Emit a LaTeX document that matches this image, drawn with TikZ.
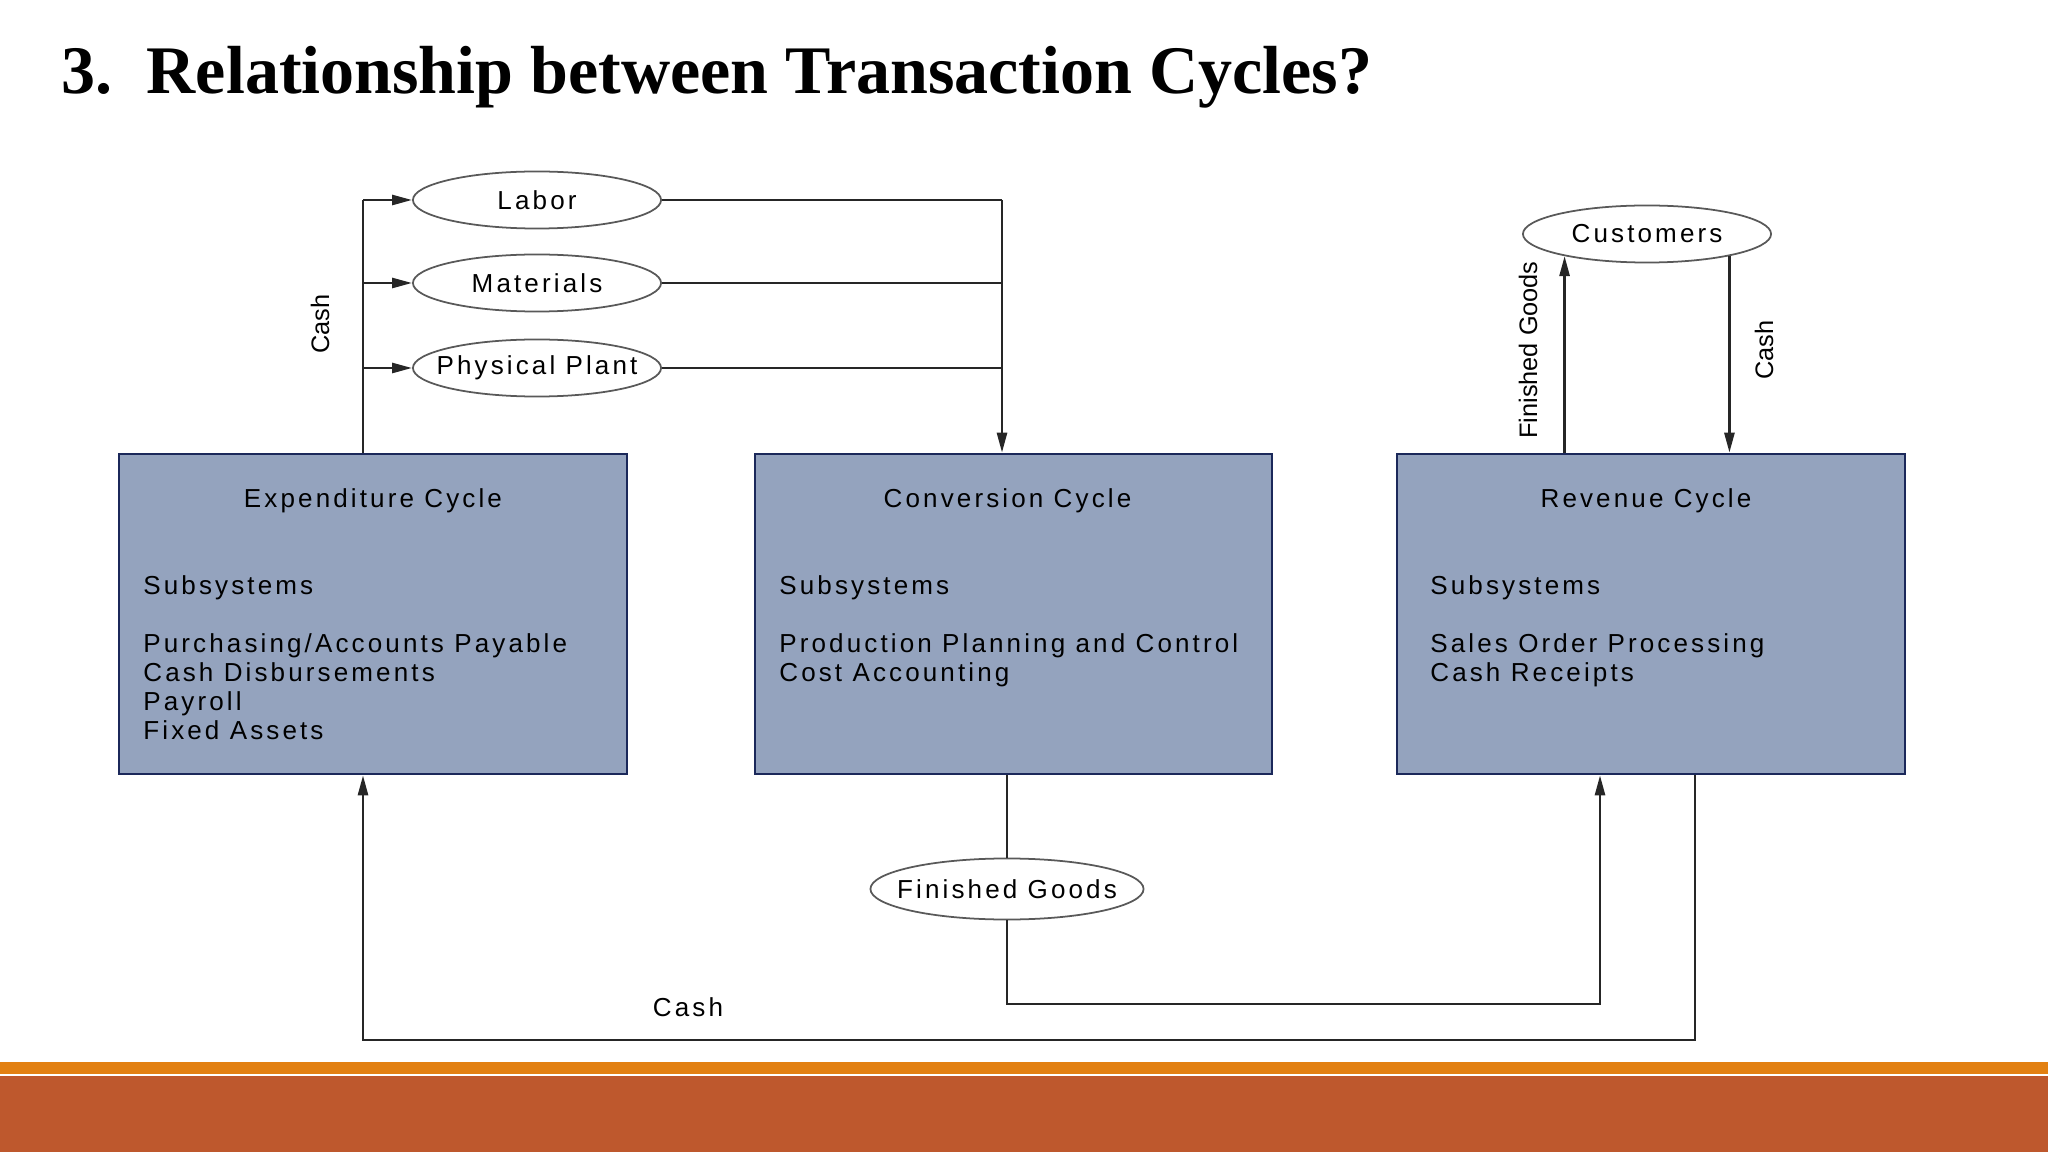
\documentclass[tikz,border=0pt]{standalone}
\usepackage{fontspec}
\setmainfont{Liberation Serif}
\newfontfamily\diagfont[LetterSpace=12]{Liberation Sans}
\newfontfamily\plainsans{Liberation Sans}
\usetikzlibrary{shapes.geometric,arrows.meta,positioning}
\definecolor{boxfill}{RGB}{148,163,190}
\definecolor{boxline}{RGB}{27,40,90}
\definecolor{bandorange}{RGB}{226,128,18}
\definecolor{bandrust}{RGB}{190,88,45}

\begin{document}
\begin{tikzpicture}
[
    x=0.01cm, y=-0.01cm,
    cyclebox/.style={draw=boxline, fill=boxfill, line width=0.7pt, minimum height=3.2cm, inner sep=0},
    resource/.style={ellipse, draw=black!65, fill=white, line width=0.5pt, minimum width=2.48cm, minimum height=0.57cm, inner ysep=0, inner xsep=-0.15cm, font=\diagfont\fontsize{7.4}{8.25}\selectfont},
    link/.style={draw=black!85, line width=0.75pt},
    flow/.style={-{Triangle[length=0.2cm,width=0.1cm]}},
    boxtitle/.style={inner sep=0, font=\diagfont\fontsize{7.4}{8.25}\selectfont},
    boxlist/.style={align=left, anchor=north west, inner sep=0, font=\diagfont\fontsize{7.4}{8.25}\selectfont},
    sidelabel/.style={rotate=90, inner sep=0, font=\plainsans\fontsize{7.2}{8}\selectfont}
]
    \useasboundingbox (0,0) rectangle (2048,1152);

    \node [anchor=base west, inner sep=0, font=\fontsize{19.35}{23}\selectfont\bfseries] (title) at (61,94) {3.\ \ Relationship between Transaction Cycles?};

    % cycles
    \node [cyclebox, minimum width=5.08cm] (exp) at (373,614) {};
    \node [cyclebox, minimum width=5.17cm] (conv) at (1013.5,614) {};
    \node [cyclebox, minimum width=5.08cm] (rev) at (1651,614) {};

    \node [boxtitle] (exptitle) at ([yshift=-0.48cm]exp.north) {Expenditure Cycle};
    \node [boxtitle] (convtitle) at ([xshift=-0.06cm,yshift=-0.48cm]conv.north) {Conversion Cycle};
    \node [boxtitle] (revtitle) at ([xshift=-0.05cm,yshift=-0.48cm]rev.north) {Revenue Cycle};

    \node [boxlist] (explist) at ([xshift=0.25cm,yshift=-1.22cm]exp.north west)
        {Subsystems\\[0.29cm]Purchasing/Accounts Payable\\Cash Disbursements\\Payroll\\Fixed Assets};
    \node [boxlist] (convlist) at ([xshift=0.25cm,yshift=-1.22cm]conv.north west)
        {Subsystems\\[0.29cm]Production Planning and Control\\Cost Accounting};
    \node [boxlist] (revlist) at ([xshift=0.34cm,yshift=-1.22cm]rev.north west)
        {Subsystems\\[0.29cm]Sales Order Processing\\Cash Receipts};

    % resources
    \node [resource] (labor) at (537,200) {Labor};
    \node [resource] (mat) at (537,283) {Materials};
    \node [resource] (plant) at (537,368) {Physical Plant};
    \node [resource] (cust) at (1647,234) {Customers};
    \node [resource, minimum width=2.73cm, minimum height=0.61cm] (fg) at (1007,889) {Finished Goods};

    \coordinate (cashtop) at (363,200);
    \coordinate (convin) at (1002,200);
    \coordinate (fgret) at (1600,1004);
    \coordinate (cashout) at (1695,1040);

    % flows
    \draw [link] (exp.north -| cashtop) -- (cashtop);
    \draw [link, flow] (cashtop) -- (labor.west);
    \draw [link, flow] (cashtop |- mat.west) -- (mat.west);
    \draw [link, flow] (cashtop |- plant.west) -- (plant.west);
    \draw [link] (labor.east) -- (convin);
    \draw [link] (mat.east) -- (mat.east -| convin);
    \draw [link] (plant.east) -- (plant.east -| convin);
    \draw [link, flow] (convin) -- (convin |- conv.north);
    \draw [link, flow] (rev.north -| cust.195) -- (cust.195);
    \draw [link, flow] (cust.345) -- (rev.north -| cust.345);
    \draw [link] (conv.south -| fg.north) -- (fg.north);
    \draw [link, flow] (fg.south) |- (fgret) -- (fgret |- rev.south);
    \draw [link, flow] (rev.south -| cashout) -- (cashout) -| (exp.south -| cashtop);

    \node [sidelabel] (cashlbl) at (320,324) {Cash};
    \node [sidelabel] (fglbl) at (1528,350) {Finished Goods};
    \node [sidelabel] (custcash) at (1764,350) {Cash};
    \node [boxtitle] (retcash) at (688,1007) {Cash};

    % footer bands
    \fill [bandorange] (0,1062) rectangle (2048,1074);
    \fill [bandrust] (0,1076) rectangle (2048,1152);
\end{tikzpicture}
\end{document}
